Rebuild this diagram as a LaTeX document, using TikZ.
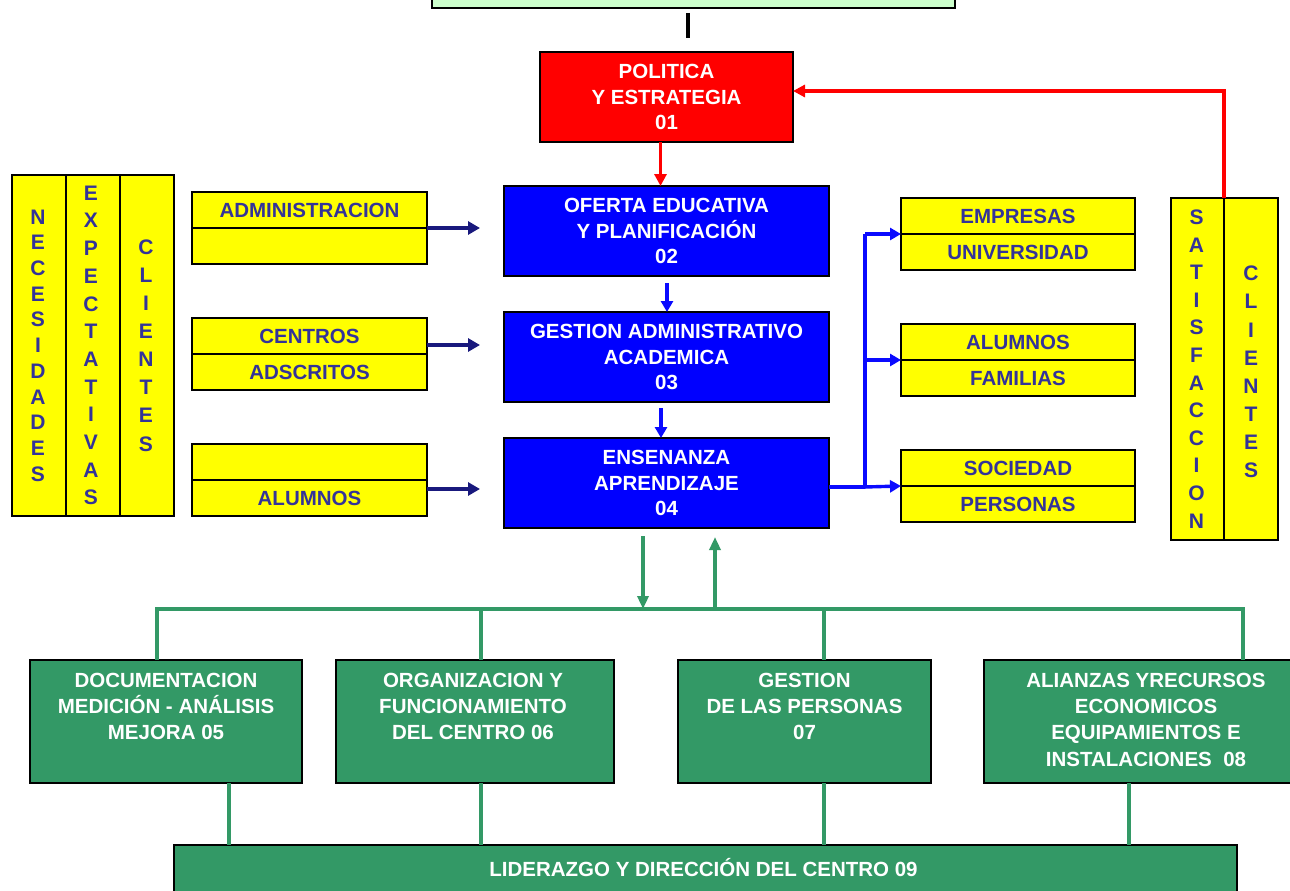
\documentclass[tikz,border=0pt]{standalone}
\usepackage{fontspec}
\setmainfont{Liberation Sans}
\usetikzlibrary{arrows.meta}
\definecolor{ylw}{RGB}{255,255,0}
\definecolor{ytxt}{RGB}{51,51,153}
\definecolor{bboxc}{RGB}{0,0,255}
\definecolor{blu}{RGB}{10,10,255}
\definecolor{navyc}{RGB}{25,25,125}
\definecolor{grn}{RGB}{51,153,102}
\definecolor{lgrn}{RGB}{204,255,204}
\definecolor{redc}{RGB}{255,0,0}
\newcommand\txtfont{\bfseries\fontsize{20.5}{25.5}\selectfont}
\newcommand\mybox[7]{\node[#6, minimum width={(#4)-(#2)}, minimum height={(#5)-(#3)}, anchor=north west] (#1) at (#2,#3) {#7};}
\tikzset{
  bx/.style={draw=black, line width=2pt, inner sep=0pt, outer sep=0pt},
  ybx/.style={bx, fill=ylw, text=ytxt, font=\txtfont},
  bbx/.style={bx, fill=bboxc, text=white, font=\txtfont, align=center},
  rbx/.style={bx, fill=redc, text=white, font=\txtfont, align=center},
  gbx/.style={bx, fill=grn},
  gtxt/.style={text=white, font=\bfseries\fontsize{20.5}{26.3}\selectfont, align=center, inner sep=0pt},
  vtxt/.style={text=ytxt, align=center, inner sep=0pt},
  navyarr/.style={draw=navyc, line width=3.6pt, -{Triangle[length=12pt,width=13pt]}},
  bluearr/.style={draw=blu, line width=3.4pt, -{Triangle[length=11pt,width=12pt]}},
  blueline/.style={draw=blu, line width=3.4pt},
  redarr/.style={draw=redc, line width=3.4pt, -{Triangle[length=12pt,width=12pt]}},
  grnarr/.style={draw=grn, line width=3.4pt, -{Triangle[length=13pt,width=11pt]}},
  grnline/.style={draw=grn, line width=3.4pt},
}
\begin{document}
\begin{tikzpicture}[x=1pt,y=-1pt]
\useasboundingbox (0,0) rectangle (1290,891);
\clip (0,0) rectangle (1290,891);
\fill[white] (0,0) rectangle (1290,891);

% top box
\mybox{top}{432}{-20}{955}{8}{bx, fill=lgrn}{}
\coordinate (bk2) at (688,38);
\draw[line width=3.6pt] ([yshift=-5pt]top.south -| bk2) -- (bk2);

% red box
\mybox{pol}{540}{52}{793}{142}{rbx}{POLITICA\\Y ESTRATEGIA\\01}

% blue boxes
\mybox{b02}{504}{186}{829}{276}{bbx}{OFERTA EDUCATIVA\\Y PLANIFICACIÓN\\02}
\mybox{b03}{504}{312}{829}{402}{bbx}{GESTION ADMINISTRATIVO\\ACADEMICA\\03}
\mybox{b04}{504}{438}{829}{528}{bbx}{ENSENANZA\\APRENDIZAJE\\04}

% left columns
\mybox{lc1}{12}{175}{66}{516}{bx, fill=ylw}{}
\mybox{lc2}{66}{175}{120}{516}{bx, fill=ylw}{}
\mybox{lc3}{120}{175}{174}{516}{bx, fill=ylw}{}
\node[vtxt, font=\bfseries\fontsize{21}{25.7}\selectfont] (v1) at ([xshift=-1pt]lc1.center) {N\\E\\C\\E\\S\\I\\D\\A\\D\\E\\S};
\node[vtxt, font=\bfseries\fontsize{21}{27.7}\selectfont] (v2) at ([xshift=-2pt]lc2.center) {E\\X\\P\\E\\C\\T\\A\\T\\I\\V\\A\\S};
\node[vtxt, font=\bfseries\fontsize{21}{28.1}\selectfont] (v3) at ([xshift=-1pt]lc3.center) {C\\L\\I\\E\\N\\T\\E\\S};

% right columns
\mybox{rc1}{1171}{198}{1224}{540}{bx, fill=ylw}{}
\mybox{rc2}{1224}{198}{1278}{540}{bx, fill=ylw}{}
\node[vtxt, font=\bfseries\fontsize{21}{27.6}\selectfont] (v4) at ([xshift=-1pt]rc1.center) {S\\A\\T\\I\\S\\F\\A\\C\\C\\I\\O\\N};
\node[vtxt, font=\bfseries\fontsize{21}{28.1}\selectfont] (v5) at ([yshift=-3pt]rc2.center) {C\\L\\I\\E\\N\\T\\E\\S};

% left yellow boxes
\mybox{adm1}{192}{192}{427}{228}{ybx}{ADMINISTRACION}
\mybox{adm2}{192}{228}{427}{264}{ybx}{}
\mybox{cen1}{192}{318}{427}{354}{ybx}{CENTROS}
\mybox{cen2}{192}{354}{427}{390}{ybx}{ADSCRITOS}
\mybox{lal1}{192}{444}{427}{480}{ybx}{}
\mybox{lal2}{192}{480}{427}{516}{ybx}{ALUMNOS}

% right yellow boxes
\mybox{emp1}{901}{198}{1135}{234}{ybx}{EMPRESAS}
\mybox{emp2}{901}{234}{1135}{270}{ybx}{UNIVERSIDAD}
\mybox{alu1}{901}{324}{1135}{360}{ybx}{ALUMNOS}
\mybox{alu2}{901}{360}{1135}{396}{ybx}{FAMILIAS}
\mybox{soc1}{901}{450}{1135}{486}{ybx}{SOCIEDAD}
\mybox{soc2}{901}{486}{1135}{522}{ybx}{PERSONAS}

% green boxes
\mybox{b05}{30}{660}{302}{783}{gbx}{}
\mybox{b06}{336}{660}{614}{783}{gbx}{}
\mybox{b07}{678}{660}{931}{783}{gbx}{}
\mybox{b08}{984}{660}{1308}{783}{gbx}{}
\mybox{lid}{174}{845}{1237}{920}{gbx}{}
\node[gtxt] (t05) at ([yshift=-46.5pt]b05.north) {DOCUMENTACION\\MEDICIÓN - ANÁLISIS\\MEJORA 05};
\node[gtxt] (t06) at ([yshift=-46.5pt,xshift=-2pt]b06.north) {ORGANIZACION Y\\FUNCIONAMIENTO\\DEL CENTRO 06};
\node[gtxt] (t07) at ([yshift=-46.5pt]b07.north) {GESTION\\DE LAS PERSONAS\\07};
\node[gtxt] (t08) at ([yshift=-59.5pt]b08.north) {ALIANZAS YRECURSOS\\ECONOMICOS\\EQUIPAMIENTOS E\\INSTALACIONES\ \ 08};
\node[gtxt] (tlid) at ([yshift=-23pt,xshift=-2pt]lid.north) {LIDERAZGO Y DIRECCIÓN DEL CENTRO 09};

% red connectors
\draw[redarr] ([xshift=-6pt]pol.south) -- ([xshift=-6pt]b02.north);
\draw[redarr] (rc1.north east) -- ([yshift=6pt]pol.east -| rc1.north east) -- ([yshift=6pt]pol.east);

% blue down arrows
\draw[bluearr] ([yshift=-7pt,xshift=0.5pt]b02.south) -- ([xshift=0.5pt]b03.north);
\draw[bluearr] ([yshift=-6pt,xshift=-5.5pt]b03.south) -- ([xshift=-5.5pt]b04.north);

% navy arrows from left
\coordinate (aE) at (480,228);
\coordinate (cE) at (480,345);
\coordinate (lE) at (480,489);
\draw[navyarr] (adm1.south east) -- (aE);
\draw[navyarr] (cen1.south east |- cE) -- (cE);
\draw[navyarr] (lal1.south east |- lE) -- (lE);

% blue fan to right
\coordinate (fanB) at (865,487);
\coordinate (fanT) at (865,234);
\draw[blueline, line join=round] (b04.east |- fanB) -- (fanB) -- (fanT);
\draw[bluearr, line join=round] (fanT) -- (emp1.south west);
\draw[bluearr] (fanT |- alu1.south west) -- (alu1.south west);
\draw[bluearr] (fanB) -- (soc1.south west);

% green bus
\coordinate (busL) at (157,609);
\coordinate (busR) at (1243,609);
\draw[grnline] (b05.north -| busL) -- (busL) -- (busR) -- (b08.north -| busR);
\coordinate (c06) at (481,609);
\coordinate (c07) at (824,609);
\draw[grnline] (c06) -- (b06.north -| c06);
\draw[grnline] (c07) -- (b07.north -| c07);
\coordinate (ga) at (643,536);
\coordinate (gu) at (715,537);
\draw[grnarr] (ga) -- (ga |- busL);
\draw[grnarr] (gu |- busL) -- (gu);

% green to leadership
\coordinate (d05) at (229,783);
\coordinate (d06) at (481,783);
\coordinate (d07) at (824,783);
\coordinate (d08) at (1129,783);
\draw[grnline] (b05.south -| d05) -- (lid.north -| d05);
\draw[grnline] (b06.south -| d06) -- (lid.north -| d06);
\draw[grnline] (b07.south -| d07) -- (lid.north -| d07);
\draw[grnline] (b08.south -| d08) -- (lid.north -| d08);
\end{tikzpicture}
\end{document}
